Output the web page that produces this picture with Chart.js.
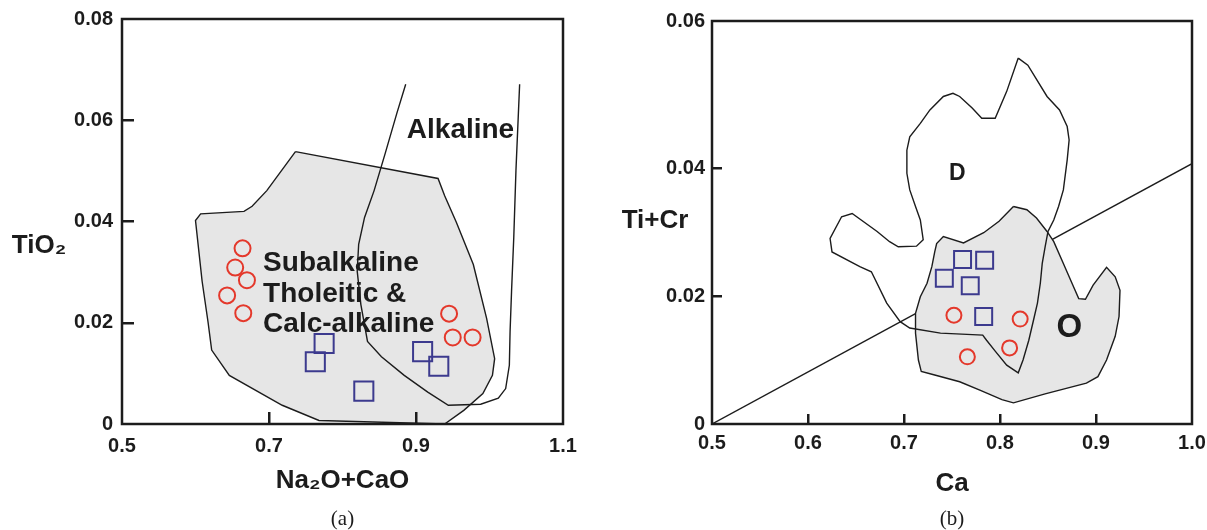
<!DOCTYPE html>
<html>
<head>
<meta charset="utf-8">
<script src="https://cdn.jsdelivr.net/npm/chart.js@4.4.0/dist/chart.umd.min.js"></script>
<style>
  body { margin: 0; background: #fff; }
  canvas { position: absolute; top: 0; }
</style>
</head>
<body>
<canvas id="chartA" width="600" height="530" style="left:0"></canvas>
<canvas id="chartB" width="607" height="530" style="left:600px"></canvas>
<script>
// ---- panel (a): TiO2 vs Na2O+CaO ----
const xTicksA = [0.5, 0.7, 0.9, 1.1];
const yTicksA = [0, 0.02, 0.04, 0.06, 0.08];
const circlesA = [
  [0.664, 0.0347], [0.654, 0.0309], [0.670, 0.0284], [0.643, 0.0254], [0.665, 0.0219],
  [0.945, 0.0218], [0.950, 0.0171], [0.977, 0.0171]
];
const squaresA = [[0.775, 0.0159], [0.763, 0.0123], [0.909, 0.0143], [0.931, 0.0114], [0.829, 0.0065]];
// subalkaline field (grey)
const subalkalineField = [
  [0.736, 0.0538], [0.930, 0.0485], [0.939, 0.0451], [0.955, 0.0398], [0.978, 0.0315],
  [0.996, 0.0209], [1.007, 0.0129], [1.004, 0.0096], [0.991, 0.0060], [0.965, 0.0027],
  [0.939, 0.0000], [0.768, 0.0007], [0.718, 0.0037], [0.646, 0.0096], [0.622, 0.0146],
  [0.617, 0.0202], [0.609, 0.0282], [0.600, 0.0402], [0.607, 0.0415], [0.666, 0.0420],
  [0.677, 0.0430], [0.697, 0.0461], [0.736, 0.0538]
];
// alkaline field boundary (open curve)
const alkalineLine = [
  [0.886, 0.0671], [0.874, 0.0614], [0.858, 0.0534], [0.843, 0.0461], [0.830, 0.0408],
  [0.822, 0.0355], [0.820, 0.0302], [0.825, 0.0236], [0.834, 0.0163], [0.853, 0.0133],
  [0.884, 0.0096], [0.916, 0.0063], [0.944, 0.0037], [0.988, 0.0039], [1.012, 0.0051],
  [1.022, 0.0070], [1.027, 0.0116], [1.028, 0.0183], [1.030, 0.0262], [1.033, 0.0368],
  [1.036, 0.0501], [1.041, 0.0671]
];
const notesA = [
  { text: 'Alkaline', x: 0.8875, y: 0.0580, size: 28 },
  { text: 'Subalkaline', x: 0.692, y: 0.0318, size: 28 },
  { text: 'Tholeitic &', x: 0.692, y: 0.0257, size: 28 },
  { text: 'Calc-alkaline', x: 0.692, y: 0.0196, size: 28 }
];

// ---- panel (b): Ti+Cr vs Ca ----
const xTicksB = [0.5, 0.6, 0.7, 0.8, 0.9, 1.0];
const yTicksB = [0, 0.02, 0.04, 0.063];
const circlesB = [[0.752, 0.0170], [0.821, 0.0164], [0.810, 0.0119], [0.766, 0.0105]];
const squaresB = [[0.761, 0.0257], [0.784, 0.0256], [0.742, 0.0228], [0.769, 0.0216], [0.783, 0.0168]];
const fieldD = [
  [0.819, 0.0572], [0.829, 0.0561], [0.849, 0.0512], [0.862, 0.0491], [0.870, 0.0465],
  [0.872, 0.0444], [0.870, 0.0413], [0.866, 0.0366], [0.861, 0.0340], [0.856, 0.0319],
  [0.850, 0.0301], [0.847, 0.0277], [0.844, 0.0251], [0.842, 0.0220], [0.839, 0.0189],
  [0.835, 0.0163], [0.830, 0.0131], [0.824, 0.0100], [0.819, 0.0080], [0.807, 0.0092],
  [0.795, 0.0114], [0.786, 0.0131], [0.782, 0.0139], [0.738, 0.0142], [0.706, 0.0150],
  [0.696, 0.0160], [0.682, 0.0189], [0.666, 0.0238], [0.654, 0.0246], [0.625, 0.0269],
  [0.623, 0.0290], [0.635, 0.0324], [0.646, 0.0329], [0.672, 0.0301], [0.685, 0.0285],
  [0.694, 0.0277], [0.713, 0.0278], [0.720, 0.0288], [0.717, 0.0319], [0.712, 0.0340],
  [0.706, 0.0366], [0.703, 0.0392], [0.703, 0.0428], [0.706, 0.0449], [0.717, 0.0470],
  [0.727, 0.0491], [0.741, 0.0512], [0.751, 0.0517], [0.758, 0.0512], [0.771, 0.0494],
  [0.781, 0.0478], [0.795, 0.0478], [0.807, 0.0520], [0.819, 0.0572]
];
const fieldO = [
  [0.814, 0.0340], [0.828, 0.0335], [0.838, 0.0322], [0.849, 0.0301], [0.856, 0.0285],
  [0.866, 0.0251], [0.875, 0.0220], [0.882, 0.0196], [0.889, 0.0195], [0.897, 0.0217],
  [0.911, 0.0245], [0.920, 0.0230], [0.925, 0.0209], [0.924, 0.0168], [0.920, 0.0137],
  [0.911, 0.0100], [0.902, 0.0074], [0.890, 0.0064], [0.847, 0.0047], [0.814, 0.0033],
  [0.802, 0.0038], [0.779, 0.0053], [0.758, 0.0066], [0.731, 0.0077], [0.718, 0.0082],
  [0.715, 0.0100], [0.712, 0.0142], [0.712, 0.0173], [0.717, 0.0199], [0.724, 0.0220],
  [0.729, 0.0246], [0.732, 0.0269], [0.734, 0.0282], [0.741, 0.0293], [0.762, 0.0283],
  [0.783, 0.0299], [0.799, 0.0317], [0.814, 0.0340]
];
const dividerB = [[0.5, 0], [1.0, 0.0407]];
const notesB = [
  { text: 'D', x: 0.7556, y: 0.0392, size: 23, align: 'center' },
  { text: 'O', x: 0.8722, y: 0.0150, size: 33, align: 'center' }
];

const FONT = "'Liberation Sans', Arial, Helvetica, sans-serif";
const INK = '#1c1c1c';
const RED = '#e4382b';
const BLUE = '#3c3a8e';
const GREY = '#e6e6e6';

const toPts = arr => arr.map(([x, y]) => ({ x, y }));

function outline(points, fillColor) {
  return {
    data: toPts(points),
    borderColor: INK,
    borderWidth: 1.4,
    backgroundColor: fillColor || 'rgba(0,0,0,0)',
    fill: fillColor ? 'shape' : false,
    pointRadius: 0,
    tension: 0
  };
}

function markers(points, style, radius, color) {
  return {
    data: toPts(points),
    showLine: false,
    fill: false,
    pointStyle: style,
    pointRadius: radius,
    pointBorderWidth: 2,
    pointBorderColor: color,
    pointBackgroundColor: 'rgba(0,0,0,0)',
    borderColor: color
  };
}

function axis(ticks, fmt, o) {
  return {
    type: 'linear',
    position: o.position,
    min: ticks[0],
    max: ticks[ticks.length - 1],
    afterBuildTicks: s => { s.ticks = ticks.map(v => ({ value: v })); },
    afterFit: s => {
      if (s.isHorizontal()) s.height = o.size; else s.width = o.size;
      // the layout padding alone decides where the plot area sits
      s.paddingTop = s.paddingBottom = s.paddingLeft = s.paddingRight = 0;
    },
    grid: {
      drawOnChartArea: false,
      drawTicks: true,
      tickLength: -o.tick,
      lineWidth: 2.5,
      z: 1,
      color: c => (c.index === 0 || c.index === ticks.length - 1) ? 'rgba(0,0,0,0)' : INK
    },
    border: { display: false },
    ticks: {
      padding: o.pad,
      color: INK,
      font: { family: FONT, size: 20, weight: 'bold' },
      callback: fmt
    },
    title: o.title
      ? { display: true, text: o.title, color: INK, padding: { top: 0, bottom: o.titlePad },
          font: { family: FONT, size: 26, weight: 'bold' } }
      : { display: false }
  };
}

// frame around the plot area
const framePlugin = {
  id: 'frame',
  afterDatasetsDraw(chart) {
    const { ctx, chartArea: a } = chart;
    ctx.save();
    ctx.strokeStyle = INK;
    ctx.lineWidth = 2.5;
    ctx.strokeRect(a.left, a.top, a.right - a.left, a.bottom - a.top);
    ctx.restore();
  }
};

// field names inside the plot + horizontal y-axis title
const notesPlugin = {
  id: 'notes',
  afterDatasetsDraw(chart, args, opts) {
    const { ctx, chartArea: a, scales: { x, y } } = chart;
    ctx.save();
    ctx.fillStyle = INK;
    ctx.textBaseline = 'middle';
    (opts.items || []).forEach(n => {
      ctx.font = `bold ${n.size}px ${FONT}`;
      ctx.textAlign = n.align || 'left';
      ctx.fillText(n.text, x.getPixelForValue(n.x), y.getPixelForValue(n.y));
    });
    if (opts.yTitle) {
      const t = opts.yTitle;
      ctx.font = `bold 26px ${FONT}`;
      ctx.textAlign = 'center';
      ctx.fillText(t.text, a.left + t.dx, a.top + t.at * (a.bottom - a.top));
    }
    ctx.restore();
  }
};

function makeChart(id, cfg) {
  return new Chart(document.getElementById(id), {
    type: 'line',
    data: { datasets: cfg.datasets },
    options: {
      responsive: false,
      animation: false,
      events: [],
      layout: { padding: cfg.padding },
      scales: { x: cfg.x, y: cfg.y },
      plugins: {
        legend: { display: false },
        tooltip: { enabled: false },
        title: {
          display: true,
          text: cfg.caption,
          position: 'bottom',
          fullSize: false,
          color: INK,
          padding: { top: 6, bottom: 0 },
          font: { family: "'Liberation Serif', 'Times New Roman', serif", size: 21, weight: 'normal', lineHeight: 1 }
        },
        notes: { items: cfg.notes, yTitle: cfg.yTitle }
      }
    },
    plugins: [framePlugin, notesPlugin]
  });
}

const fmtY = v => (v === 0 ? '0' : v.toFixed(2));
const fmtX = v => v.toFixed(1);

makeChart('chartA', {
  padding: { top: 19, right: 37, left: 0, bottom: 0 },
  caption: '(a)',
  notes: notesA,
  yTitle: { text: 'TiO\u2082', dx: -83, at: 0.56 },
  x: axis(xTicksA, fmtX, { position: 'bottom', size: 79, tick: 12, pad: 22, title: 'Na\u2082O+CaO', titlePad: 7 }),
  y: axis(yTicksA, fmtY, { position: 'left', size: 122, tick: 12, pad: 21 }),
  datasets: [
    markers(circlesA, 'circle', 8, RED),
    markers(squaresA, 'rect', 13.5, BLUE),
    outline(alkalineLine),
    outline(subalkalineField, GREY)
  ]
});

makeChart('chartB', {
  padding: { top: 21, right: 15, left: 0, bottom: 0 },
  caption: '(b)',
  notes: notesB,
  yTitle: { text: 'Ti+Cr', dx: -57, at: 0.496 },
  x: axis(xTicksB, fmtX, { position: 'bottom', size: 79, tick: 10, pad: 17, title: 'Ca', titlePad: 4 }),
  y: axis(yTicksB, fmtY, { position: 'left', size: 112, tick: 10, pad: 17 }),
  datasets: [
    markers(circlesB, 'circle', 7.5, RED),
    markers(squaresB, 'rect', 12, BLUE),
    outline(fieldD),
    outline(fieldO, GREY),
    outline(dividerB)
  ]
});
</script>
</body>
</html>
